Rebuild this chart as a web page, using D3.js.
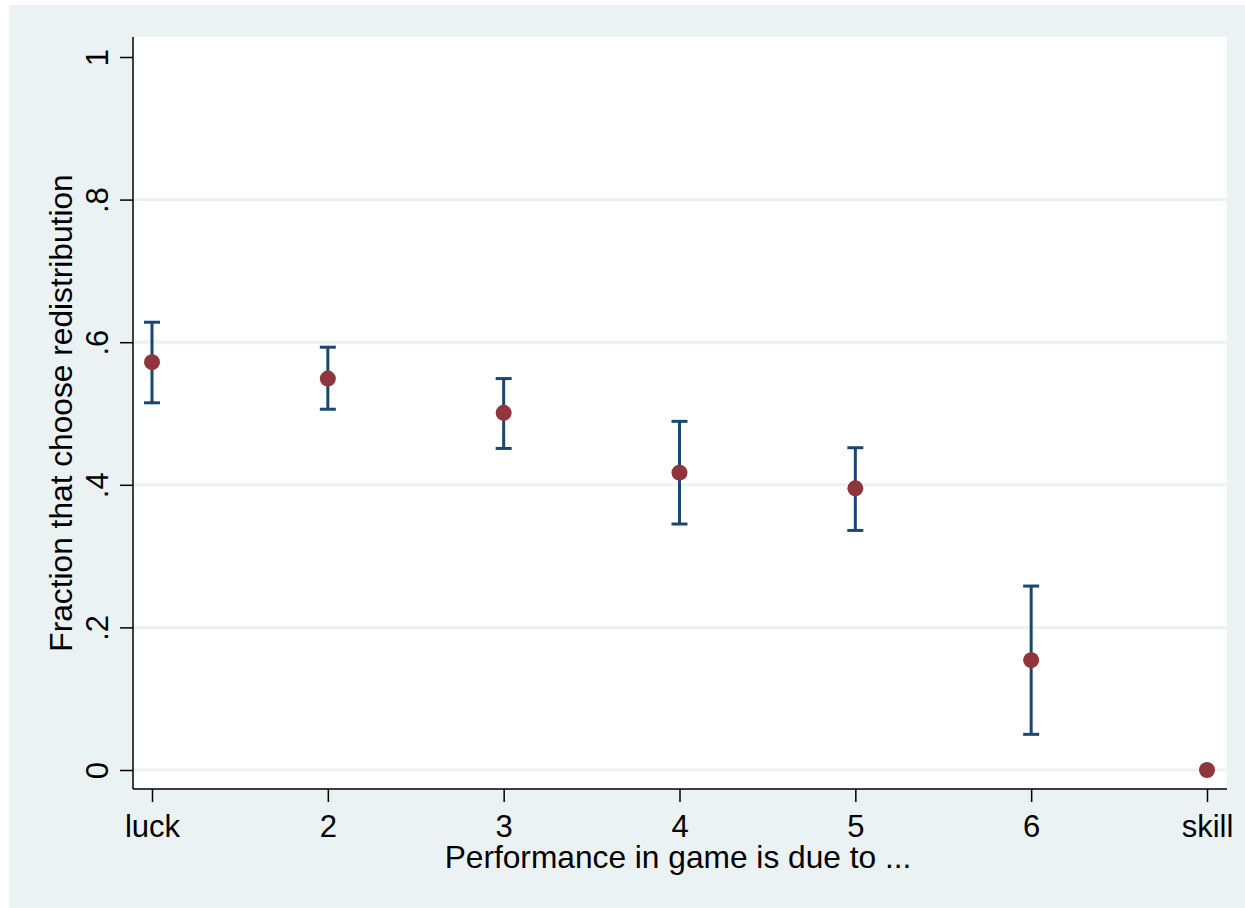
<!DOCTYPE html>
<html><head><meta charset="utf-8">
<script src="https://cdn.jsdelivr.net/npm/d3@7/dist/d3.min.js"></script>
<style>body{margin:0;background:#fff;}svg{display:block;}text{font-family:"Liberation Sans",Arial,sans-serif;fill:#000;}</style>
</head><body><svg id="c" width="1245" height="908"></svg>
<script>
const categories = [1, 2, 3, 4, 5, 6, 7];
const tickLabels = ["luck", "2", "3", "4", "5", "6", "skill"];
const means = [0.572, 0.549, 0.501, 0.417, 0.395, 0.154, 0.0];
const ciHigh = [0.628, 0.593, 0.549, 0.489, 0.452, 0.258, null];
const ciLow  = [0.515, 0.506, 0.451, 0.345, 0.336, 0.050, null];
const yTicks = [0, 0.2, 0.4, 0.6, 0.8, 1];
const yTickLabels = ["0", ".2", ".4", ".6", ".8", "1"];
const gridValues = [0, 0.2, 0.4, 0.6, 0.8];

const svg = d3.select("#c");
svg.append("rect").attr("x", 9).attr("y", 5).attr("width", 1236).attr("height", 903).attr("fill", "#eaf2f3");
const L = 133, R = 1227, T = 37, B = 789;
svg.append("rect").attr("x", L).attr("y", T).attr("width", R - L).attr("height", B - T).attr("fill", "#fff");

const x = d3.scaleLinear().domain([1, 7]).range([152, 1207]);
const y = d3.scaleLinear().domain([0, 1]).range([770, 57]);

// grid
svg.append("g").selectAll("line").data(gridValues).join("line")
  .attr("x1", L).attr("x2", R).attr("y1", d => y(d)).attr("y2", d => y(d))
  .attr("stroke", "#eaf2f3").attr("stroke-width", 3);

const fs = 31;
const fsT = 31.7;
// y axis
const yAxis = svg.append("g").attr("transform", `translate(${L},0)`)
  .call(d3.axisLeft(y).tickValues(yTicks).tickFormat((d, i) => yTickLabels[i]).tickSize(13).tickSizeOuter(0));
yAxis.select(".domain").remove();
yAxis.selectAll(".tick line").attr("stroke", "#000").attr("stroke-width", 1.5);
yAxis.selectAll(".tick text")
  .attr("x", null).attr("dy", null).attr("text-anchor", "middle")
  .attr("transform", "translate(-25,0) rotate(-90)")
  .style("font-size", fs + "px").style("font-family", '"Liberation Sans",Arial,sans-serif');
svg.append("line").attr("x1", L).attr("x2", L).attr("y1", T).attr("y2", B).attr("stroke", "#000").attr("stroke-width", 1.5);

// x axis
const xAxis = svg.append("g").attr("transform", `translate(0,${B})`)
  .call(d3.axisBottom(x).tickValues(categories).tickFormat((d, i) => tickLabels[i]).tickSize(13).tickSizeOuter(0));
xAxis.select(".domain").remove();
xAxis.selectAll(".tick line").attr("stroke", "#000").attr("stroke-width", 1.5);
xAxis.selectAll(".tick text").attr("y", 48).attr("dy", null)
  .style("font-size", fs + "px").style("font-family", '"Liberation Sans",Arial,sans-serif');
svg.append("line").attr("x1", L).attr("x2", R).attr("y1", B).attr("y2", B).attr("stroke", "#000").attr("stroke-width", 1.5);

// titles
svg.append("text").attr("x", 678).attr("y", 868).attr("text-anchor", "middle")
  .style("font-size", fsT + "px").text("Performance in game is due to ...");
svg.append("text").attr("transform", `translate(72,${(T + B) / 2}) rotate(-90)`).attr("text-anchor", "middle")
  .style("font-size", fsT + "px").text("Fraction that choose redistribution");

// error bars
const ci = categories.map((c, i) => ({c, lo: ciLow[i], hi: ciHigh[i]})).filter(d => d.lo != null);
const eb = svg.append("g").attr("stroke", "#1a476f").attr("stroke-width", 3).attr("fill", "none");
eb.selectAll("line.v").data(ci).join("line").attr("class", "v")
  .attr("x1", d => x(d.c)).attr("x2", d => x(d.c)).attr("y1", d => y(d.lo)).attr("y2", d => y(d.hi));
eb.selectAll("line.h").data(ci).join("line").attr("class", "h")
  .attr("x1", d => x(d.c) - 8).attr("x2", d => x(d.c) + 8).attr("y1", d => y(d.hi)).attr("y2", d => y(d.hi));
eb.selectAll("line.l").data(ci).join("line").attr("class", "l")
  .attr("x1", d => x(d.c) - 8).attr("x2", d => x(d.c) + 8).attr("y1", d => y(d.lo)).attr("y2", d => y(d.lo));

// points
svg.append("g").selectAll("circle").data(categories).join("circle")
  .attr("cx", d => x(d)).attr("cy", (d, i) => y(means[i])).attr("r", 8).attr("fill", "#90353b");
</script></body></html>
